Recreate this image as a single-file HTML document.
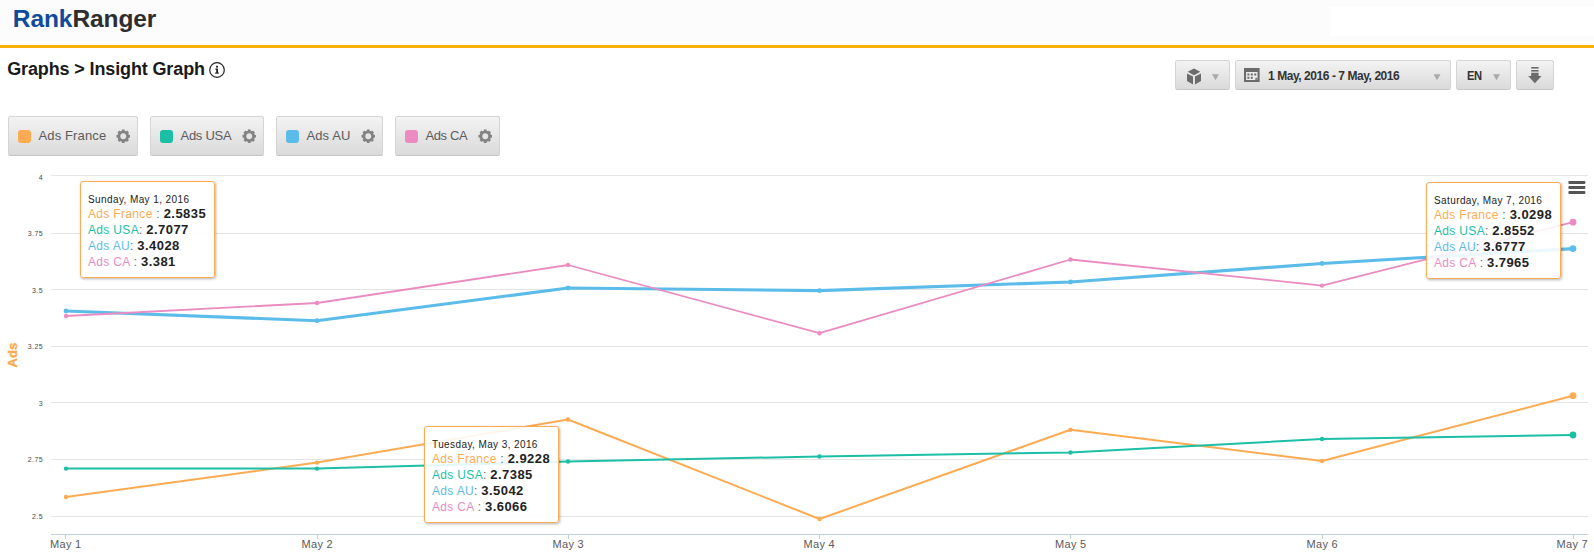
<!DOCTYPE html>
<html><head><meta charset="utf-8">
<style>
html,body{margin:0;padding:0;}
body{width:1594px;height:555px;overflow:hidden;background:#fff;font-family:"Liberation Sans",sans-serif;position:relative;}
.abs{position:absolute;}
#hdr{left:0;top:0;width:1594px;height:45px;background:#fcfcfc;}
#hline{left:0;top:45px;width:1594px;height:3px;background:#fbb103;}
#logo{left:12.8px;top:4.5px;font-size:24.5px;font-weight:bold;letter-spacing:-0.08px;line-height:28px;color:#2e2e2e;white-space:nowrap;}
#logo b{color:#0f4b9b;}
#title{left:7.2px;top:58px;transform:translateY(0.25px);font-size:18px;font-weight:bold;letter-spacing:-0.13px;line-height:22px;color:#1a1a1a;white-space:nowrap;}
.btn{position:absolute;box-sizing:border-box;border:1px solid #d4d4d4;border-bottom-color:#c6c6c6;border-radius:2.5px;background:linear-gradient(#f3f3f3,#dadada);}
.lg{top:116px;height:40px;}
.sw{position:absolute;left:8.8px;top:12.7px;width:13.6px;height:13.6px;border-radius:3px;}
.lt{position:absolute;left:29.5px;top:11px;font-size:13px;line-height:16px;color:#5c5c5c;white-space:nowrap;}
.gear{position:absolute;right:6.7px;top:11.8px;width:14.5px;height:14.5px;}
.tb{top:60px;height:30px;}
.arr{position:absolute;width:7px;height:6px;top:13.2px;background:#aaa;clip-path:polygon(0 0,100% 0,50% 100%);}
.tip{position:absolute;box-sizing:border-box;border:1px solid #fbab53;border-radius:3px;background:rgba(255,255,255,0.88);box-shadow:1px 1px 3px rgba(0,0,0,0.3);width:135px;height:97px;}
.tip div{position:absolute;left:7px;white-space:nowrap;font-size:12px;line-height:16px;letter-spacing:0.33px;}
.tip .d{font-size:10px;color:#222;top:9.5px;letter-spacing:0.4px;}
.tip b{color:#222;letter-spacing:0.45px;font-size:13px;}
.yl{position:absolute;right:1551px;font-size:7px;line-height:8px;color:#484848;letter-spacing:0.4px;white-space:nowrap;}
.xl{position:absolute;top:538px;letter-spacing:0.3px;text-indent:0.6px;width:60px;text-align:center;font-size:11px;line-height:13px;color:#5a5a5a;white-space:nowrap;}
</style></head><body>
<div id="hdr" class="abs"></div><div class="abs" style="left:1330px;top:7px;width:264px;height:29px;background:#fff"></div><div id="hline" class="abs"></div>
<div id="logo" class="abs"><b>Rank</b>Ranger</div>
<div id="title" class="abs">Graphs &gt; Insight Graph</div>
<svg class="abs" style="left:207.5px;top:61px" width="18" height="18" viewBox="0 0 18 18"><circle cx="9" cy="9" r="7.3" fill="none" stroke="#222" stroke-width="1.2"/><rect x="8.2" y="7.6" width="1.8" height="4.6" fill="#222"/><rect x="7.2" y="7.6" width="2" height="1" fill="#222"/><rect x="7" y="11.6" width="4" height="1" fill="#222"/><rect x="8.1" y="4.8" width="1.9" height="1.8" fill="#222"/></svg>

<!-- toolbar -->
<div class="btn tb" style="left:1175px;width:55px"><svg class="abs" style="left:11px;top:6.6px" width="15" height="17" viewBox="0 0 15 17"><g fill="#6b6b6b"><path d="M7 0.4 L13.3 3.8 L7 7.2 L0.7 3.8 Z"/><path d="M0 5.4 L6 8.6 L6 16.6 L0 13.1 Z"/><path d="M14 5.4 L8 8.6 L8 16.6 L14 13.1 Z"/></g></svg><div class="arr" style="left:36px"></div></div>
<div class="btn tb" style="left:1235px;width:216px"><svg class="abs" style="left:8.2px;top:6.9px" width="16" height="14" viewBox="0 0 16 14"><rect x="0" y="0" width="15.6" height="14" fill="#6b6b6b"/><rect x="2.1" y="4" width="11.4" height="8" fill="#ececec"/><g fill="#6b6b6b"><rect x="3.4" y="5.5" width="2" height="2"/><rect x="6.8" y="5.5" width="2" height="2"/><rect x="10.2" y="5.5" width="2" height="2"/><rect x="3.4" y="8.8" width="2" height="2"/><rect x="6.8" y="8.8" width="2" height="2"/><path d="M11.4 12 V9.8 H13.5 V12 Z"/></g><path d="M12.3 11.6 L13.1 10.4 V11.6 Z" fill="#ececec"/></svg><div class="abs" style="left:32px;top:8px;font-size:12px;font-weight:bold;letter-spacing:-0.44px;line-height:14px;color:#333;white-space:nowrap">1 May, 2016 - 7 May, 2016</div><div class="arr" style="left:197.5px"></div></div>
<div class="btn tb" style="left:1456px;width:55px"><div class="abs" style="left:10px;top:7px;font-size:13px;font-weight:bold;letter-spacing:-0.5px;line-height:15px;color:#333;transform:scaleX(0.86);transform-origin:0 0">EN</div><div class="arr" style="left:36px"></div></div>
<div class="btn tb" style="left:1516px;width:38px"><svg class="abs" style="left:11px;top:5.8px" width="14" height="17" viewBox="0 0 14 17"><g fill="#6b6b6b"><rect x="3.2" y="0" width="7.4" height="1.6"/><rect x="3.2" y="3" width="7.4" height="1.6"/><path d="M3.2 5.8 H10.6 V9 H13.6 L6.9 16.2 L0.2 9 H3.2 Z"/></g></svg></div>

<!-- legend buttons -->
<div class="btn lg" style="left:8px;width:130px"><div class="sw" style="background:#fcab53"></div><div class="lt" style="letter-spacing:0.13px">Ads France</div><svg class="gear" viewBox="0 0 15 15"><circle cx="7.5" cy="7.5" r="4.5" fill="none" stroke="#838383" stroke-width="3"/><g stroke="#838383" stroke-width="2.8"><line x1="7.5" y1="0.5" x2="7.5" y2="14.5"/><line x1="0.5" y1="7.5" x2="14.5" y2="7.5"/><line x1="2.55" y1="2.55" x2="12.45" y2="12.45"/><line x1="12.45" y1="2.55" x2="2.55" y2="12.45"/></g><circle cx="7.5" cy="7.5" r="3" fill="#e5e5e5"/></svg></div>
<div class="btn lg" style="left:150px;width:114px"><div class="sw" style="background:#1cbfa5"></div><div class="lt" style="letter-spacing:-0.28px">Ads USA</div><svg class="gear" viewBox="0 0 15 15"><circle cx="7.5" cy="7.5" r="4.5" fill="none" stroke="#838383" stroke-width="3"/><g stroke="#838383" stroke-width="2.8"><line x1="7.5" y1="0.5" x2="7.5" y2="14.5"/><line x1="0.5" y1="7.5" x2="14.5" y2="7.5"/><line x1="2.55" y1="2.55" x2="12.45" y2="12.45"/><line x1="12.45" y1="2.55" x2="2.55" y2="12.45"/></g><circle cx="7.5" cy="7.5" r="3" fill="#e5e5e5"/></svg></div>
<div class="btn lg" style="left:276px;width:107px"><div class="sw" style="background:#5cbce9"></div><div class="lt" style="letter-spacing:0.1px">Ads AU</div><svg class="gear" viewBox="0 0 15 15"><circle cx="7.5" cy="7.5" r="4.5" fill="none" stroke="#838383" stroke-width="3"/><g stroke="#838383" stroke-width="2.8"><line x1="7.5" y1="0.5" x2="7.5" y2="14.5"/><line x1="0.5" y1="7.5" x2="14.5" y2="7.5"/><line x1="2.55" y1="2.55" x2="12.45" y2="12.45"/><line x1="12.45" y1="2.55" x2="2.55" y2="12.45"/></g><circle cx="7.5" cy="7.5" r="3" fill="#e5e5e5"/></svg></div>
<div class="btn lg" style="left:395px;width:105px"><div class="sw" style="background:#ea8cc2"></div><div class="lt" style="letter-spacing:-0.4px">Ads CA</div><svg class="gear" viewBox="0 0 15 15"><circle cx="7.5" cy="7.5" r="4.5" fill="none" stroke="#838383" stroke-width="3"/><g stroke="#838383" stroke-width="2.8"><line x1="7.5" y1="0.5" x2="7.5" y2="14.5"/><line x1="0.5" y1="7.5" x2="14.5" y2="7.5"/><line x1="2.55" y1="2.55" x2="12.45" y2="12.45"/><line x1="12.45" y1="2.55" x2="2.55" y2="12.45"/></g><circle cx="7.5" cy="7.5" r="3" fill="#e5e5e5"/></svg></div>


<!-- chart -->
<svg class="abs" style="left:0;top:0" width="1594" height="555" viewBox="0 0 1594 555">
<g stroke="#e4e4e4" stroke-width="1" shape-rendering="crispEdges">
<line x1="51" x2="1588" y1="175.5" y2="175.5"/><line x1="51" x2="1588" y1="233.5" y2="233.5"/><line x1="51" x2="1588" y1="289.5" y2="289.5"/><line x1="51" x2="1588" y1="346.5" y2="346.5"/><line x1="51" x2="1588" y1="402.5" y2="402.5"/><line x1="51" x2="1588" y1="459.5" y2="459.5"/><line x1="51" x2="1588" y1="516.5" y2="516.5"/>
</g>
<g stroke="#c0d0e0" stroke-width="1" shape-rendering="crispEdges"><line x1="51" x2="1588" y1="534.5" y2="534.5"/>
<line x1="65.5" x2="65.5" y1="534" y2="539"/><line x1="317.5" x2="317.5" y1="534" y2="539"/><line x1="568.5" x2="568.5" y1="534" y2="539"/><line x1="819.5" x2="819.5" y1="534" y2="539"/><line x1="1070.5" x2="1070.5" y1="534" y2="539"/><line x1="1322.5" x2="1322.5" y1="534" y2="539"/><line x1="1573.5" x2="1573.5" y1="534" y2="539"/></g>
<g fill="none" stroke-linejoin="round" stroke-linecap="round">
<polyline stroke="#fcab53" stroke-width="2" points="66,497 317,462.6 568,419.5 819.5,519 1070.5,429.7 1322,461 1573,395.7"/>
<polyline stroke="#1cbfa5" stroke-width="2" points="66,468.6 317,468.6 568,461.5 819.5,456.5 1070.5,452.5 1322,439 1573,435"/>
<polyline stroke="#5cbce9" stroke-width="3.1" points="66,311 317,320.7 568,288 819.5,290.6 1070.5,282 1322,263.5 1573,248.6"/>
<polyline stroke="#ea8cc2" stroke-width="1.8" points="66,316 317,303 568,265 819.5,333.2 1070.5,259.5 1322,285.6 1573,222.2"/>
</g>
<g fill="#fcab53"><circle cx="66" cy="497" r="2.2"/><circle cx="317" cy="462.6" r="2.2"/><circle cx="568" cy="419.5" r="2.2"/><circle cx="819.5" cy="519" r="2.2"/><circle cx="1070.5" cy="429.7" r="2.2"/><circle cx="1322" cy="461" r="2.2"/><circle cx="1573" cy="395.7" r="3.4"/></g>
<g fill="#1cbfa5"><circle cx="66" cy="468.6" r="2.2"/><circle cx="317" cy="468.6" r="2.2"/><circle cx="568" cy="461.5" r="2.2"/><circle cx="819.5" cy="456.5" r="2.2"/><circle cx="1070.5" cy="452.5" r="2.2"/><circle cx="1322" cy="439" r="2.2"/><circle cx="1573" cy="435" r="3.4"/></g>
<g fill="#5cbce9"><circle cx="66" cy="311" r="2.4"/><circle cx="317" cy="320.7" r="2.4"/><circle cx="568" cy="288" r="2.4"/><circle cx="819.5" cy="290.6" r="2.4"/><circle cx="1070.5" cy="282" r="2.4"/><circle cx="1322" cy="263.5" r="2.4"/><circle cx="1573" cy="248.6" r="3.4"/></g>
<g fill="#ea8cc2"><circle cx="66" cy="316" r="2.2"/><circle cx="317" cy="303" r="2.2"/><circle cx="568" cy="265" r="2.2"/><circle cx="819.5" cy="333.2" r="2.2"/><circle cx="1070.5" cy="259.5" r="2.2"/><circle cx="1322" cy="285.6" r="2.2"/><circle cx="1573" cy="222.2" r="3.4"/></g>
<g fill="#555"><rect x="1568.4" y="181" width="17" height="3" rx="1"/><rect x="1568.4" y="186" width="17" height="3" rx="1"/><rect x="1568.4" y="191" width="17" height="3" rx="1"/></g>
<text transform="translate(16.8,367.4) rotate(-90)" font-family="Liberation Sans" font-size="13" font-weight="bold" fill="#fba94e" stroke="#fba94e" stroke-width="0.35" letter-spacing="0">Ads</text>
</svg>

<div class="yl" style="top:174px">4</div><div class="yl" style="top:230px">3.75</div><div class="yl" style="top:287px">3.5</div><div class="yl" style="top:343px">3.25</div><div class="yl" style="top:400px">3</div><div class="yl" style="top:456px">2.75</div><div class="yl" style="top:513px">2.5</div>

<div class="xl" style="left:35.5px">May 1</div><div class="xl" style="left:287px">May 2</div><div class="xl" style="left:538px">May 3</div><div class="xl" style="left:789px">May 4</div><div class="xl" style="left:1040.5px">May 5</div><div class="xl" style="left:1292px">May 6</div><div class="xl" style="left:1542px">May 7</div>

<div class="tip" style="left:80px;top:181px"><div class="d">Sunday, May 1, 2016</div><div style="top:23.8px;color:#666"><span style="color:#fcab53">Ads France </span>: <b>2.5835</b></div><div style="top:39.8px;color:#666"><span style="color:#1cbfa5">Ads USA</span>: <b>2.7077</b></div><div style="top:55.8px;color:#666"><span style="color:#5cbce9">Ads AU</span>: <b>3.4028</b></div><div style="top:71.8px;color:#666"><span style="color:#ea8cc2">Ads CA </span>: <b>3.381</b></div></div>
<div class="tip" style="left:424px;top:426px"><div class="d">Tuesday, May 3, 2016</div><div style="top:23.8px;color:#666"><span style="color:#fcab53">Ads France </span>: <b>2.9228</b></div><div style="top:39.8px;color:#666"><span style="color:#1cbfa5">Ads USA</span>: <b>2.7385</b></div><div style="top:55.8px;color:#666"><span style="color:#5cbce9">Ads AU</span>: <b>3.5042</b></div><div style="top:71.8px;color:#666"><span style="color:#ea8cc2">Ads CA </span>: <b>3.6066</b></div></div>
<div class="tip" style="left:1426px;top:182px"><div class="d">Saturday, May 7, 2016</div><div style="top:23.8px;color:#666"><span style="color:#fcab53">Ads France </span>: <b>3.0298</b></div><div style="top:39.8px;color:#666"><span style="color:#1cbfa5">Ads USA</span>: <b>2.8552</b></div><div style="top:55.8px;color:#666"><span style="color:#5cbce9">Ads AU</span>: <b>3.6777</b></div><div style="top:71.8px;color:#666"><span style="color:#ea8cc2">Ads CA </span>: <b>3.7965</b></div></div>
</body></html>
